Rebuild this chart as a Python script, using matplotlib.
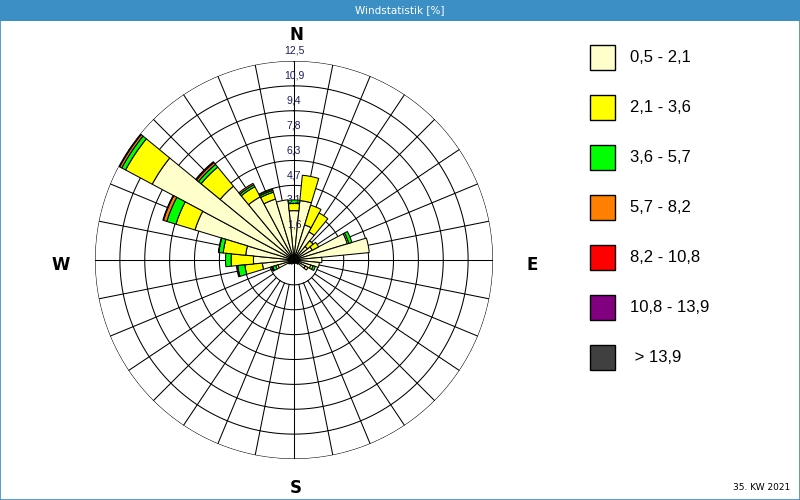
import numpy as np
import matplotlib
matplotlib.use("Agg")
import matplotlib.pyplot as plt
from matplotlib.patches import Rectangle

# --- data -----------------------------------------------------------------
# 32 direction sectors, clockwise from north
sector_step = 11.25
n_sectors = 32

speed_classes = ["0,5 - 2,1", "2,1 - 3,6", "3,6 - 5,7", "5,7 - 8,2",
                 "8,2 - 10,8", "10,8 - 13,9", "> 13,9"]
class_colors = ["#FFFFCC", "#FFFF00", "#00FF00", "#FF8000",
                "#FF0000", "#800080", "#404040"]

# frequency [%] per sector (index 0 = N, 8 = E, 16 = S, 24 = W)
freq_0_5_2_1 = [3.10, 3.75, 2.30, 2.00, 1.10, 1.30, 3.50, 4.75,
                1.75, 1.60, 1.10, 0.80, 0.35, 0.25, 0.20, 0.20,
                0.20, 0.20, 0.25, 0.30, 0.30, 0.40, 1.05, 2.00,
                2.55, 3.05, 6.50, 10.10, 6.00, 4.50, 4.00, 3.80]
freq_2_1_3_6 = [0.45, 1.60, 1.30, 1.35, 0.45, 0.45, 0.10, 0.00,
                0.00, 0.00, 0.15, 0.20, 0.00, 0.00, 0.00, 0.00,
                0.00, 0.00, 0.00, 0.00, 0.00, 0.00, 0.15, 1.10,
                1.40, 1.42, 1.25, 1.90, 1.55, 0.72, 0.45, 0.00]
freq_3_6_5_7 = [0.22, 0.00, 0.00, 0.00, 0.00, 0.00, 0.20, 0.00,
                0.00, 0.00, 0.15, 0.00, 0.00, 0.00, 0.00, 0.00,
                0.00, 0.00, 0.00, 0.00, 0.00, 0.00, 0.20, 0.45,
                0.35, 0.27, 0.60, 0.27, 0.22, 0.14, 0.12, 0.00]
freq_5_7_8_2 = [0.00, 0.00, 0.00, 0.00, 0.00, 0.00, 0.00, 0.00,
                0.00, 0.00, 0.00, 0.00, 0.00, 0.00, 0.00, 0.00,
                0.00, 0.00, 0.00, 0.00, 0.00, 0.00, 0.03, 0.00,
                0.00, 0.03, 0.22, 0.15, 0.15, 0.10, 0.08, 0.00]
freq_8_2_10_8 = [0.00, 0.00, 0.00, 0.00, 0.00, 0.00, 0.00, 0.00,
                 0.00, 0.00, 0.00, 0.00, 0.00, 0.00, 0.00, 0.00,
                 0.00, 0.00, 0.00, 0.00, 0.00, 0.00, 0.06, 0.08,
                 0.00, 0.00, 0.04, 0.03, 0.07, 0.00, 0.00, 0.00]
freq_10_8_13_9 = [0.0] * 32
freq_over_13_9 = [0.0] * 32

series = [freq_0_5_2_1, freq_2_1_3_6, freq_3_6_5_7, freq_5_7_8_2,
          freq_8_2_10_8, freq_10_8_13_9, freq_over_13_9]

ring_values = [1.5625, 3.125, 4.6875, 6.25, 7.8125, 9.375, 10.9375, 12.5]
ring_labels = ["1,6", "3,1", "4,7", "6,3", "7,8", "9,4", "10,9", "12,5"]

title_text = "Windstatistik [%]"
period_text = "35. KW 2021"
compass = [("N", 296, 35), ("S", 296, 488), ("W", 61, 265), ("E", 532, 265)]

# --- figure ---------------------------------------------------------------
W, H = 800, 500
fig = plt.figure(figsize=(W / 100, H / 100), dpi=100)
fig.patch.set_facecolor("white")
frame_blue = "#3C8FC4"
line_w = 0.75

# title bar
fig.patches.append(Rectangle((0, 1 - 21 / H), 1, 21 / H, transform=fig.transFigure,
                             facecolor=frame_blue, edgecolor="none", zorder=0))
fig.text(400 / W, 1 - 10.5 / H, title_text, color="white", fontsize=7.5,
         ha="center", va="center", family="DejaVu Sans")
# outer frame
fig.patches.append(Rectangle((0.0006, 0.001), 0.9988, 0.998, transform=fig.transFigure,
                             facecolor="none", edgecolor=frame_blue, linewidth=1.2, zorder=5))

# polar axes: centre (294, 260) px, outer ring radius 199 px
cx, cy, R = 294, 260, 199
ax = fig.add_axes([(cx - R) / W, (H - cy - R) / H, 2 * R / W, 2 * R / H],
                  projection="polar")
ax.set_theta_zero_location("N")
ax.set_theta_direction(-1)
ax.set_ylim(0, ring_values[-1])
ax.set_xticks([])
ax.set_yticks([])
ax.grid(False)
ax.spines["polar"].set_visible(False)
ax.patch.set_alpha(0)

# grid: rings and spokes
t = np.linspace(0, 2 * np.pi, 721)
for rv in ring_values:
    ax.plot(t, np.full_like(t, rv), color="black", lw=line_w, zorder=1)
for k in range(n_sectors):
    th = np.deg2rad(k * sector_step)
    r0 = 0 if k % 8 == 0 else ring_values[0]
    ax.plot([th, th], [r0, ring_values[-1]], color="black", lw=line_w, zorder=1)

# stacked sectors
theta = np.deg2rad(np.arange(n_sectors) * sector_step)
width = np.deg2rad(sector_step)
bottom = np.zeros(n_sectors)
for vals, col in zip(series, class_colors):
    v = np.asarray(vals, dtype=float)
    mask = v > 0
    if mask.any():
        ax.bar(theta[mask], v[mask], width=width, bottom=bottom[mask],
               color=col, edgecolor="black", linewidth=line_w, align="center", zorder=3)
    bottom += v

# ring value labels along the north axis
for rv, lab in zip(ring_values, ring_labels):
    ax.text(0, rv + 0.33, lab, ha="center", va="bottom", fontsize=7.5,
            color="#1C1C5C", family="Liberation Sans", clip_on=False, zorder=6)

# compass letters
for letter, px, py in compass:
    fig.text(px / W, 1 - py / H, letter, ha="center", va="center",
             fontsize=12, fontweight="bold", family="DejaVu Sans")

# legend
for i, (lab, col) in enumerate(zip(speed_classes, class_colors)):
    yc = 57.5 + 50 * i
    fig.patches.append(Rectangle((590 / W, 1 - (yc + 12.5) / H), 25 / W, 25 / H,
                                 transform=fig.transFigure, facecolor=col,
                                 edgecolor="black", linewidth=1.0))
    fig.text(630 / W, 1 - yc / H, (" " + lab) if lab.startswith(">") else lab,
             ha="left", va="center", fontsize=12, family="Liberation Sans")

fig.text(790 / W, 1 - 488 / H, period_text, ha="right", va="center",
         fontsize=6.5, family="DejaVu Sans")

fig.savefig("out.png", dpi=100)
